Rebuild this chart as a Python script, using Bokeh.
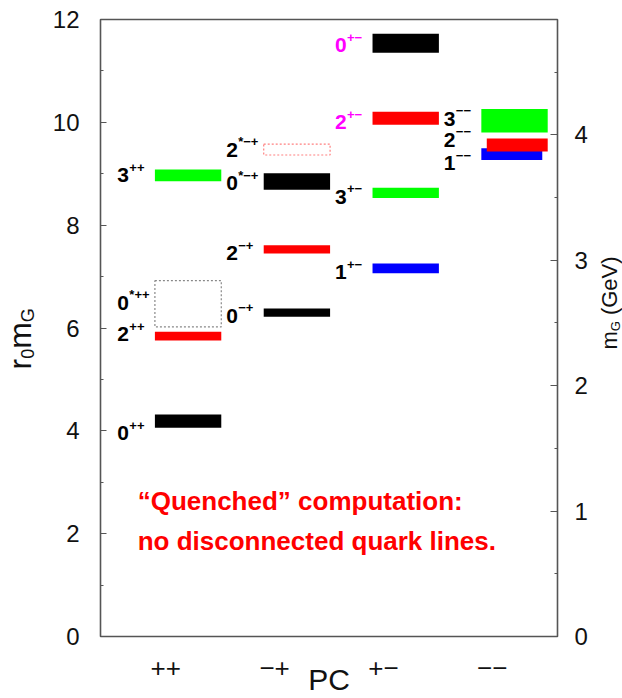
import math
from bokeh.plotting import figure
from bokeh.models import ColumnDataSource, Range1d, LinearAxis, FixedTicker
from bokeh.layouts import row
from bokeh.core.properties import value
from bokeh.embed import file_html
from bokeh.resources import INLINE

# ---------------- data ----------------
pc_channels = ["++", "\u2212+", "+\u2212", "\u2212\u2212"]
pc_positions = [1, 2, 3, 4]

state_J = ["0", "2", "0", "3",
           "0", "2", "0", "2",
           "1", "3", "2", "0",
           "1", "2", "3"]
state_sup = ["++", "++", "*++", "++",
             "\u2212+", "\u2212+", "*\u2212+", "*\u2212+",
             "+\u2212", "+\u2212", "+\u2212", "+\u2212",
             "\u2212\u2212", "\u2212\u2212", "\u2212\u2212"]
state_channel = [1, 1, 1, 1,
                 2, 2, 2, 2,
                 3, 3, 3, 3,
                 4, 4, 4]
r0m_center = [4.19, 5.84, 6.47, 8.97,
              6.30, 7.53, 8.85, 9.47,
              7.16, 8.63, 10.08, 11.54,
              9.38, 9.56, 10.03]
r0m_error = [0.13, 0.085, 0.45, 0.115,
             0.08, 0.08, 0.16, 0.105,
             0.095, 0.10, 0.125, 0.185,
             0.115, 0.125, 0.23]
state_dotted = [False, False, True, False,
                False, False, False, True,
                False, False, False, False,
                False, False, False]

left_ticks = [0, 2, 4, 6, 8, 10, 12]
left_minor = [1, 3, 5, 7, 9, 11]
gev_ticks = [0, 1, 2, 3, 4]
gev_minor = [0.5, 1.5, 2.5, 3.5, 4.5]
r0_inv_GeV = 0.41   # 1/r0 in GeV

note_lines = ["\u201cQuenched\u201d computation:", "no disconnected quark lines."]
x_title = "PC"
left_title_parts = ["r", "0", "m", "G"]
right_title_parts = ["m", "G", "(GeV)"]

# ---------------- styles / layout ----------------
bar_fill = ["#000000", "#ff0000", None, "#00ff00",
            "#000000", "#ff0000", "#000000", None,
            "#0000ff", "#00ff00", "#ff0000", "#000000",
            "#0000ff", "#ff0000", "#00ff00"]
bar_line = [None, None, "#888888", None,
            None, None, None, "#ff8080",
            None, None, None, None,
            None, None, None]
label_color = ["#000000"] * 10 + ["#ff00ff", "#ff00ff"] + ["#000000"] * 3
bar_left_trim = [0] * 13 + [0.05, 0]
bar_right_trim = [0] * 12 + [-0.05, 0, 0]
label_dy_px = [-12, 2, 1, 0,
               -3, -4, -2, 0,
               -4, -4, -4, -2,
               -9, 5, 2]

BAR_L, BAR_R = -0.10, 0.51
LABEL_X = -0.445
H = 698
LEFT_W, RIGHT_W = 40, 27
MAIN_W = 622 - LEFT_W - RIGHT_W
FONT = "Liberation Sans"
FRAME_TOP, FRAME_BOTTOM = 19, 60
PX_PER_Y = (H - FRAME_TOP - FRAME_BOTTOM) / 12.0
Y0_PX = H - FRAME_BOTTOM   # page y of value 0


def ypix(img_y):
    """page pixel row -> value on the shared 0..12 vertical scale"""
    return (Y0_PX - img_y) / PX_PER_Y


p = figure(width=MAIN_W, height=H, output_backend="svg", toolbar_location=None,
           x_range=Range1d(0.4, 4.6), y_range=Range1d(0, 12),
           min_border_left=60, min_border_right=38, min_border_top=FRAME_TOP,
           min_border_bottom=FRAME_BOTTOM, tools="")
p.grid.visible = False
p.outline_line_color = "#555555"
p.outline_line_width = 1.6

# left axis
ya = p.yaxis[0]
ya.ticker = FixedTicker(ticks=left_ticks, minor_ticks=left_minor)
ya.axis_line_color = None
ya.major_tick_in = 6
ya.major_tick_out = 0
ya.minor_tick_in = 3
ya.minor_tick_out = 0
ya.major_tick_line_color = "#555555"
ya.minor_tick_line_color = "#555555"
ya.major_label_text_font = FONT
ya.major_label_text_font_size = "24px"
ya.major_label_text_color = "#111111"
ya.major_label_standoff = 21

# right axis in GeV
p.extra_y_ranges = {"gev": Range1d(0, 12 * r0_inv_GeV)}
ra = LinearAxis(y_range_name="gev")
ra.ticker = FixedTicker(ticks=gev_ticks, minor_ticks=gev_minor)
ra.axis_line_color = None
ra.major_tick_in = 7
ra.major_tick_out = 0
ra.minor_tick_in = 3
ra.minor_tick_out = 0
ra.major_tick_line_color = "#555555"
ra.minor_tick_line_color = "#555555"
ra.major_label_text_font = FONT
ra.major_label_text_font_size = "24px"
ra.major_label_text_color = "#111111"
ra.major_label_standoff = 17
p.add_layout(ra, "right")

# bottom axis
xa = p.xaxis[0]
xa.ticker = FixedTicker(ticks=pc_positions)
xa.major_label_overrides = {pos: lab for pos, lab in zip(pc_positions, pc_channels)}
xa.axis_line_color = None
xa.major_tick_in = 0
xa.major_tick_out = 0
xa.minor_tick_line_color = None
xa.major_label_text_font = FONT
xa.major_label_text_font_size = "26px"
xa.major_label_text_color = "#111111"
xa.major_label_standoff = 22
xa.axis_label = x_title
xa.axis_label_text_font = FONT
xa.axis_label_text_font_size = "30px"
xa.axis_label_text_font_style = "normal"
xa.axis_label_text_color = "#111111"
xa.axis_label_standoff = -17

# bars
n = len(state_J)
left = [state_channel[i] + BAR_L + bar_left_trim[i] for i in range(n)]
right = [state_channel[i] + BAR_R + bar_right_trim[i] for i in range(n)]
bottom = [r0m_center[i] - r0m_error[i] for i in range(n)]
top = [r0m_center[i] + r0m_error[i] for i in range(n)]

solid_idx = [i for i in range(n) if not state_dotted[i]]
dot_idx = [i for i in range(n) if state_dotted[i]]

src_solid = ColumnDataSource(dict(
    left=[left[i] for i in solid_idx], right=[right[i] for i in solid_idx],
    bottom=[bottom[i] for i in solid_idx], top=[top[i] for i in solid_idx],
    color=[bar_fill[i] for i in solid_idx]))
p.quad(left="left", right="right", bottom="bottom", top="top", source=src_solid,
       fill_color="color", line_color=None)

src_dot = ColumnDataSource(dict(
    left=[left[i] for i in dot_idx], right=[right[i] for i in dot_idx],
    bottom=[bottom[i] for i in dot_idx], top=[top[i] for i in dot_idx],
    color=[bar_line[i] for i in dot_idx]))
p.quad(left="left", right="right", bottom="bottom", top="top", source=src_dot,
       fill_color=None, line_color="color", line_dash="2 2", line_width=1.2)

# state labels
lab_x = [state_channel[i] + LABEL_X for i in range(n)]
lab_y = [r0m_center[i] + label_dy_px[i] / PX_PER_Y for i in range(n)]
src_lab = ColumnDataSource(dict(x=lab_x, y=lab_y, J=state_J, sup=state_sup, c=label_color))
p.text(x="x", y="y", text="J", source=src_lab, text_color="c",
       text_font=value(FONT), text_font_style="bold", text_font_size="21px",
       text_align="left", text_baseline="middle")
p.text(x="x", y="y", text="sup", source=src_lab, text_color="c",
       text_font=value(FONT), text_font_style="bold", text_font_size="13px",
       text_align="left", text_baseline="middle", x_offset=12, y_offset=-8)

# note
p.text(x=[0.742, 0.742], y=[2.63, 1.853], text=note_lines, text_color="#ff0000",
       text_font=value(FONT), text_font_style="bold", text_font_size="26px",
       text_align="left", text_baseline="alphabetic")


# side figures holding the rotated axis titles with subscripts;
# they share the main figure's vertical frame (same borders, same 0..12 scale)
def side_fig(w):
    f = figure(width=w, height=H, output_backend="svg", toolbar_location=None,
               x_range=Range1d(0, w), y_range=Range1d(0, 12),
               min_border_left=0, min_border_right=0,
               min_border_top=FRAME_TOP, min_border_bottom=FRAME_BOTTOM,
               x_axis_type=None, y_axis_type=None, tools="")
    f.grid.visible = False
    f.outline_line_color = None
    return f


A = math.pi / 2
# centres of each piece, x in the side figure's pixels, y as page rows
lf = side_fig(LEFT_W)
lf.text(x=[19, 19], y=[ypix(364.7), ypix(336.0)],
        text=[left_title_parts[0], left_title_parts[2]],
        angle=A, text_font=value(FONT), text_font_size="32px", text_color="#111111",
        text_align="center", text_baseline="middle")
lf.text(x=[27, 27], y=[ypix(354.3), ypix(315.6)],
        text=[left_title_parts[1], left_title_parts[3]],
        angle=A, text_font=value(FONT), text_font_size="18px", text_color="#111111",
        text_align="center", text_baseline="middle")

rf = side_fig(RIGHT_W)
rx_off = LEFT_W + MAIN_W
rf.text(x=[609 - rx_off, 609 - rx_off], y=[ypix(340.8), ypix(286.1)],
        text=[right_title_parts[0], right_title_parts[2]],
        angle=A, text_font=value(FONT), text_font_size="22px", text_color="#111111",
        text_align="center", text_baseline="middle")
rf.text(x=[614.5 - rx_off], y=[ypix(326.6)], text=[right_title_parts[1]],
        angle=A, text_font=value(FONT), text_font_size="13px", text_color="#111111",
        text_align="center", text_baseline="middle")

layout = row(lf, p, rf, spacing=0)
open("out.html", "w").write(file_html(layout, INLINE))
